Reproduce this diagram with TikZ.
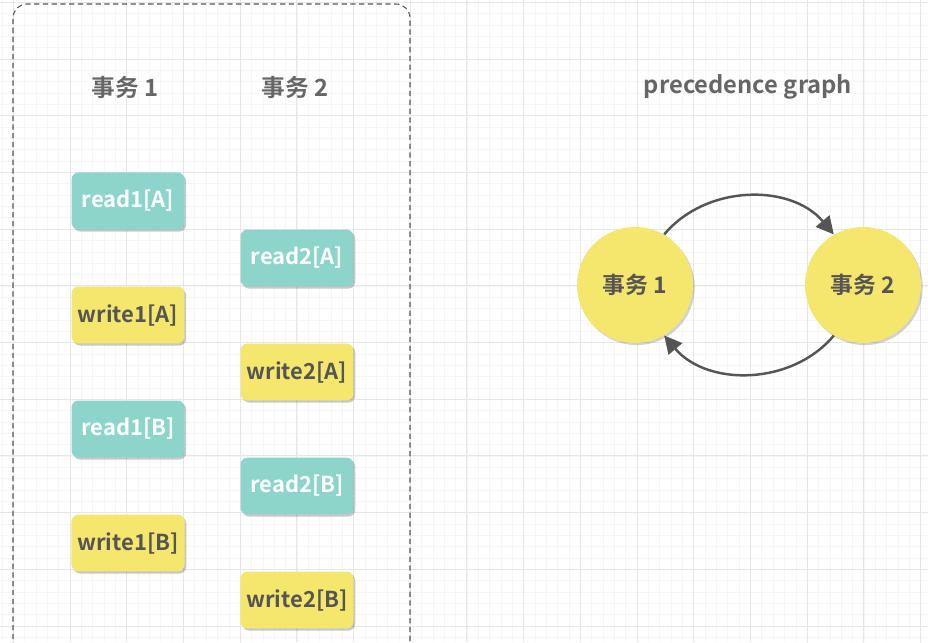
\documentclass[tikz,border=0pt]{standalone}
\usepackage{fontspec}
\setmainfont{Noto Sans CJK SC}[BoldFont={* Bold}]
\usetikzlibrary{arrows.meta,shadows}

\definecolor{tealbox}{HTML}{8DD5CB}
\definecolor{yellowbox}{HTML}{F5E66E}
\definecolor{inkgray}{HTML}{555555}
\definecolor{gridmajor}{HTML}{E6E6E6}
\definecolor{gridminor}{HTML}{F6F6F6}

\begin{document}
\begin{tikzpicture}[x=0.02cm,y=0.02cm,
	op/.style={rounded corners=4pt,minimum width=2.26cm,minimum height=1.14cm,
		font=\bfseries\fontsize{12.5}{14}\selectfont,
		drop shadow={shadow xshift=1pt,shadow yshift=-1.2pt,opacity=0.3,fill=black!70}},
	rd/.style={op,fill=tealbox,text=white},
	wr/.style={op,fill=yellowbox,text=inkgray},
	hdr/.style={font=\bfseries\fontsize{13.5}{15}\selectfont,text=inkgray!90},
	txn/.style={circle,fill=yellowbox,minimum size=2.32cm,text=inkgray,
		font=\bfseries\fontsize{13}{15}\selectfont,
		drop shadow={shadow xshift=1pt,shadow yshift=-1.2pt,opacity=0.25,fill=black!70}},
	dep/.style={-{Triangle[length=10pt,width=10pt]},line width=1.4pt,draw=inkgray}]
	\useasboundingbox (0,0) rectangle (928,642);
	\clip (0,0) rectangle (928,642);
	\fill[white] (0,0) rectangle (928,642);
	% grid
	\foreach \k in {-1,...,81}
		\draw[gridminor,line width=0.3pt] ({13.3+11.34*\k},0) -- ++(0,642);
	\foreach \k in {0,...,57}
		\draw[gridminor,line width=0.3pt] (0,{639.7-11.34*\k}) -- ++(928,0);
	\foreach \k in {-1,...,16}
		\draw[gridmajor,line width=0.5pt] ({13.3+56.7*\k},0) -- ++(0,642);
	\foreach \k in {0,...,11}
		\draw[gridmajor,line width=0.5pt] (0,{639.7-56.7*\k}) -- ++(928,0);
	% schedule frame
	\draw[inkgray,densely dashed,line width=0.6pt,rounded corners=8pt] (13,-20) rectangle (410,638);

	\node[hdr] (h1) at (125,554) {事务 1};
	\node[hdr] (h2) at (295,554) {事务 2};
	\node[hdr] (title) at (748,555) {precedence graph};

	\node[rd] (r1a) at (128,441) {read1[A]};
	\node[rd] (r2a) at (297,384) {read2[A]};
	\node[wr] (w1a) at (128,327) {write1[A]};
	\node[wr] (w2a) at (297,270) {write2[A]};
	\node[rd] (r1b) at (128,213) {read1[B]};
	\node[rd] (r2b) at (297,156) {read2[B]};
	\node[wr] (w1b) at (128,99) {write1[B]};
	\node[wr] (w2b) at (297,42) {write2[B]};

	% precedence graph
	\node[txn] (t1) at (635,357) {事务 1};
	\node[txn] (t2) at (863,357) {事务 2};
	\draw[dep] (t1.60) to[bend left=50] (t2.120);
	\draw[dep] (t2.-120) to[bend left=50] (t1.-60);
\end{tikzpicture}
\end{document}
